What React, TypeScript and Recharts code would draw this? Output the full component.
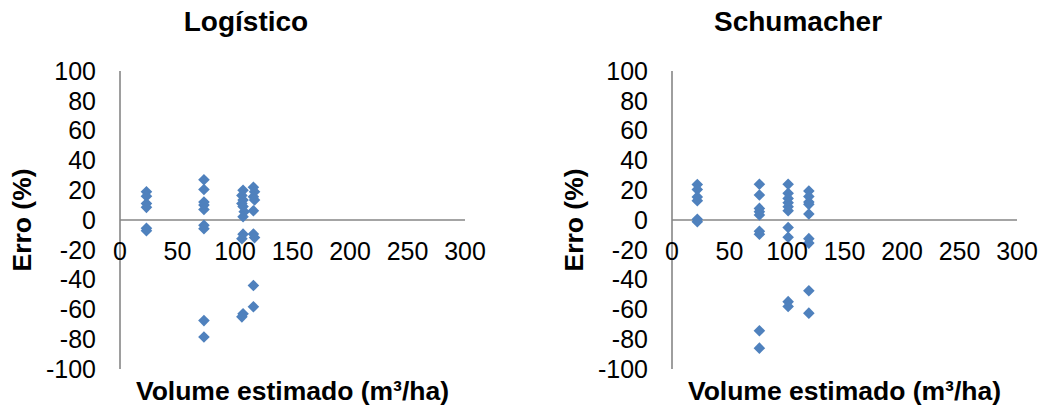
import React from 'react';
import { ScatterChart, Scatter, XAxis, YAxis, ReferenceLine } from 'recharts';

// ---- Data ----
const logisticoVolume = [
  23, 23, 23, 23, 23, 23,
  73, 73, 73, 73, 73, 73, 73, 73, 73,
  107, 106, 107, 106, 107, 108, 107, 107, 106, 107, 106,
  116, 117, 116, 117, 116, 116, 117, 116, 116,
];
const logisticoErro = [
  19, 16, 11, 8.5, -5.6, -7.2,
  27, 20.5, 12, 10, 7, -3.6, -5.8, -67.5, -78.5,
  20, 16.5, 13.4, 11, 9, 5.6, 2.2, -9.5, -12.5, -63, -65,
  22, 19, 15.6, 13.4, 6.2, -9.4, -11.8, -44, -58.2,
];
const schumacherVolume = [
  22, 22, 22, 22, 22, 22,
  76, 76, 76, 76, 76, 76, 76, 76, 76,
  101, 101, 101, 101, 101, 101, 101, 101, 101, 101,
  119, 119, 119, 119, 119, 119, 119, 119, 119,
];
const schumacherErro = [
  23.8, 20.5, 15.5, 13, 0.5, -1.2,
  24, 16.8, 7.8, 5.6, 3.4, -7.6, -9.6, -74.3, -86,
  24, 17.9, 14.5, 11.6, 8.9, 6.2, -5, -11.6, -54.8, -58,
  19.5, 15.8, 12, 10.5, 4, -12.5, -15.5, -47.5, -62.5,
];
const xTicks = [0, 50, 100, 150, 200, 250, 300];
const yTicks = [-100, -80, -60, -40, -20, 0, 20, 40, 60, 80, 100];
const titles = ['Logístico', 'Schumacher'];
const xLabel = 'Volume estimado (m³/ha)';
const yLabel = 'Erro (%)';

// ---- Layout ----
const CW = 492;
const CH = 407;
const XH = 30;
const MARGIN = { top: 71, right: 27, bottom: 38 - XH, left: 0 };
const YW = 120;
const PLOT_H = CH - MARGIN.top - MARGIN.bottom - XH;
const ZERO_Y = MARGIN.top + PLOT_H / 2;
const AXIS_COLOR = '#868686';
const POINT_COLOR = '#4f81bd';
const FONT = '"Liberation Sans", Arial, sans-serif';
const CHART_LEFTS = [0, 552];

const Diamond = (props: any) => {
  const { cx, cy } = props;
  if (cx == null || cy == null) return null;
  const r = 5.8;
  return (
    <polygon
      points={`${cx},${cy - r} ${cx + r},${cy} ${cx},${cy + r} ${cx - r},${cy}`}
      fill={POINT_COLOR}
    />
  );
};

const XTick = (props: any) => {
  const { x, payload } = props;
  return (
    <text x={x} y={ZERO_Y + 40} textAnchor="middle" fill="#000" fontSize={25} fontFamily={FONT}>
      {payload.value}
    </text>
  );
};

function Panel({ xs, ys }: { xs: number[]; ys: number[] }) {
  const data = xs.map((x, i) => ({ x, y: ys[i] }));
  return (
    <ScatterChart width={CW} height={CH} margin={MARGIN}>
      <XAxis
        type="number"
        dataKey="x"
        domain={[0, 300]}
        ticks={xTicks}
        axisLine={false}
        tickLine={false}
        height={XH}
        tick={XTick}
        interval={0}
      />
      <YAxis
        type="number"
        dataKey="y"
        domain={[-100, 100]}
        ticks={yTicks}
        width={YW}
        axisLine={{ stroke: AXIS_COLOR, strokeWidth: 1.6 }}
        tickLine={false}
        tickSize={0}
        tickMargin={24}
        interval={0}
        tick={{ fill: '#000', fontSize: 25, fontFamily: FONT }}
      />
      <ReferenceLine y={0} stroke={AXIS_COLOR} strokeWidth={1.6} />
      <Scatter data={data} shape={<Diamond />} isAnimationActive={false} />
    </ScatterChart>
  );
}

export default function App() {
  const plotW = CW - YW - MARGIN.right;
  return (
    <div style={{ position: 'absolute', left: 0, top: 0, width: 1044, height: 407, background: '#fff' }}>
      <div style={{ position: 'absolute', left: CHART_LEFTS[0], top: 0 }}>
        <Panel xs={logisticoVolume} ys={logisticoErro} />
      </div>
      <div style={{ position: 'absolute', left: CHART_LEFTS[1], top: 0 }}>
        <Panel xs={schumacherVolume} ys={schumacherErro} />
      </div>
      <svg
        width={1044}
        height={407}
        style={{ position: 'absolute', left: 0, top: 0, pointerEvents: 'none' }}
      >
        {CHART_LEFTS.map((l, i) => (
          <g key={i} fontFamily={FONT} fontWeight="bold" fill="#000">
            <text x={l + CW / 2} y={31} textAnchor="middle" fontSize={28}>
              {titles[i]}
            </text>
            <text x={l + YW + plotW / 2} y={400} textAnchor="middle" fontSize={26.5}>
              {xLabel}
            </text>
            <text
              x={l + 31}
              y={ZERO_Y}
              textAnchor="middle"
              fontSize={26.5}
              transform={`rotate(-90 ${l + 31} ${ZERO_Y})`}
            >
              {yLabel}
            </text>
          </g>
        ))}
      </svg>
    </div>
  );
}
